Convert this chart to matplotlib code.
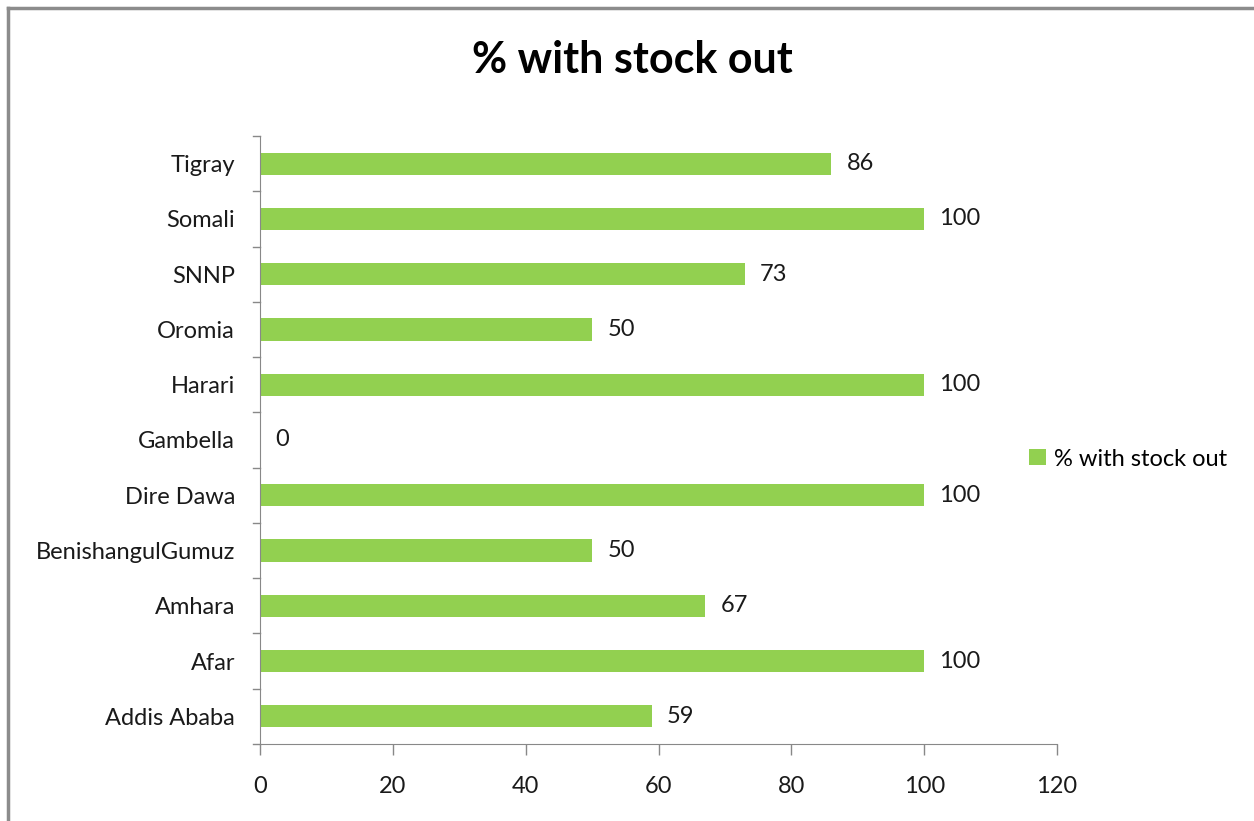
import matplotlib
matplotlib.use("Agg")
import matplotlib.pyplot as plt
from matplotlib.lines import Line2D
from matplotlib.patches import Patch

categories = ["Addis Ababa", "Afar", "Amhara", "BenishangulGumuz", "Dire Dawa",
              "Gambella", "Harari", "Oromia", "SNNP", "Somali", "Tigray"]
values = [59, 100, 67, 50, 100, 0, 100, 50, 73, 100, 86]
series_name = "% with stock out"
title = "% with stock out"
x_ticks = [0, 20, 40, 60, 80, 100, 120]

plt.rcParams['font.family'] = ['Lato', 'DejaVu Sans']

W, H = 1254, 821
fig = plt.figure(figsize=(W / 100, H / 100), dpi=100)
ax = fig.add_axes([260 / W, 1 - 744 / H, (1057 - 260) / W, (744 - 136) / H])

green = "#92D050"
txt = "#1a1a1a"
ypos = list(range(len(categories)))
ax.barh(ypos, values, height=0.4, color=green, label=series_name)

for y, v in zip(ypos, values):
    ax.text(v + 2.3, y, f"{v}", va="center", ha="left", fontsize=17, color=txt)

ax.set_xlim(0, 120)
ax.set_ylim(-0.5, len(categories) - 0.5)
ax.set_xticks(x_ticks)
ax.set_xticklabels([str(t) for t in x_ticks], fontsize=17, color=txt)
ax.set_yticks(ypos)
ax.set_yticklabels(categories, fontsize=17, color=txt)
ax.tick_params(axis="y", length=0, pad=18)
ax.tick_params(axis="x", length=8, width=1, color="#888888", pad=15)

# category boundary ticks on y axis
for b in [i - 0.5 for i in range(len(categories) + 1)]:
    ax.plot([-1.0, 0], [b, b], color="#888888", lw=1, clip_on=False)

for s in ["top", "right"]:
    ax.spines[s].set_visible(False)
ax.spines["left"].set_color("#888888")
ax.spines["bottom"].set_color("#888888")

fig.text(632 / W, 1 - 60 / H, title, ha="center", va="center",
         fontsize=31, fontweight="bold", color="black")

handle = Patch(facecolor=green, edgecolor="none")
fig.legend([handle], [series_name], loc="center left",
           bbox_to_anchor=(1029 / W, 1 - 459 / H), frameon=False,
           fontsize=17, handlelength=0.7, handleheight=0.7, handletextpad=0.35,
           borderaxespad=0, borderpad=0)

# outer chart border (only top and left visible in crop)
fig.add_artist(Line2D([8 / W, 1.0], [1 - 8 / H, 1 - 8 / H], transform=fig.transFigure,
                      color="#8c8c8c", lw=2.5))
fig.add_artist(Line2D([8 / W, 8 / W], [0, 1 - 8 / H], transform=fig.transFigure,
                      color="#8c8c8c", lw=2.5))

fig.savefig("out.png", dpi=100, facecolor="white")
